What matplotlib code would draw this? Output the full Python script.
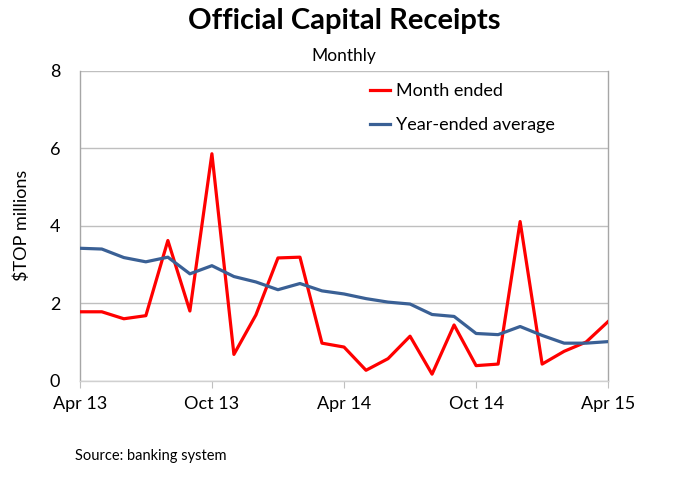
import matplotlib
matplotlib.use("Agg")
import matplotlib.pyplot as plt

plt.rcParams['font.family'] = ['Lato', 'DejaVu Sans']

months = ['Apr 13', 'May 13', 'Jun 13', 'Jul 13', 'Aug 13', 'Sep 13', 'Oct 13', 'Nov 13',
          'Dec 13', 'Jan 14', 'Feb 14', 'Mar 14', 'Apr 14', 'May 14', 'Jun 14', 'Jul 14',
          'Aug 14', 'Sep 14', 'Oct 14', 'Nov 14', 'Dec 14', 'Jan 15', 'Feb 15', 'Mar 15', 'Apr 15']
month_ended = [1.78, 1.78, 1.60, 1.68, 3.62, 1.80, 5.86, 0.68, 1.70, 3.17, 3.19, 0.97, 0.87,
               0.27, 0.57, 1.15, 0.17, 1.44, 0.39, 0.43, 4.11, 0.43, 0.76, 1.00, 1.53]
year_avg = [3.42, 3.40, 3.18, 3.07, 3.19, 2.76, 2.97, 2.69, 2.55, 2.35, 2.51, 2.32, 2.24,
            2.12, 2.03, 1.98, 1.71, 1.66, 1.22, 1.19, 1.40, 1.17, 0.97, 0.97, 1.01]
tick_labels = ['Apr 13', 'Oct 13', 'Apr 14', 'Oct 14', 'Apr 15']
yticks = [0, 2, 4, 6, 8]

fig = plt.figure(figsize=(6.88, 4.99), dpi=100)
ax = fig.add_axes([0.116, 0.237, 0.768, 0.621])

x = list(range(len(months)))
ax.plot(x, month_ended, color='#FF0000', lw=2.3, label='Month ended', zorder=3)
ax.plot(x, year_avg, color='#3A6095', lw=2.3, label='Year-ended average', zorder=3)

ax.set_xlim(0, len(months) - 1)
ax.set_ylim(0, 8)
ax.set_yticks(yticks)
ax.set_yticklabels([str(v) for v in yticks], fontsize=13)
tick_pos = [months.index(t) for t in tick_labels]
ax.set_xticks(tick_pos)
ax.set_xticklabels(tick_labels, fontsize=13)
ax.tick_params(axis='x', length=5, color='#BFBFBF', pad=6, direction='out')
ax.tick_params(axis='y', length=0, pad=14)
ax.grid(axis='y', color='#BFBFBF', lw=1)
ax.set_axisbelow(True)
for s in ['left', 'right', 'bottom']:
    ax.spines[s].set_color('#A6A6A6')
    ax.spines[s].set_linewidth(1)
ax.spines['bottom'].set_color('#D0D0D0')
ax.spines['top'].set_visible(False)

ax.set_ylabel('$TOP millions', fontsize=13, labelpad=14)

leg = ax.legend(loc='upper left', bbox_to_anchor=(0.519, 1.013), frameon=False, fontsize=13,
                handlelength=1.1, handletextpad=0.3, labelspacing=1.0)

fig.text(0.5, 0.958, 'Official Capital Receipts', ha='center', va='center',
         fontsize=21, fontweight='bold')
fig.text(0.5, 0.887, 'Monthly', ha='center', va='center', fontsize=12.5)
fig.text(0.109, 0.086, 'Source: banking system', ha='left', va='center', fontsize=10.5)

fig.savefig('out.png', dpi=100)
